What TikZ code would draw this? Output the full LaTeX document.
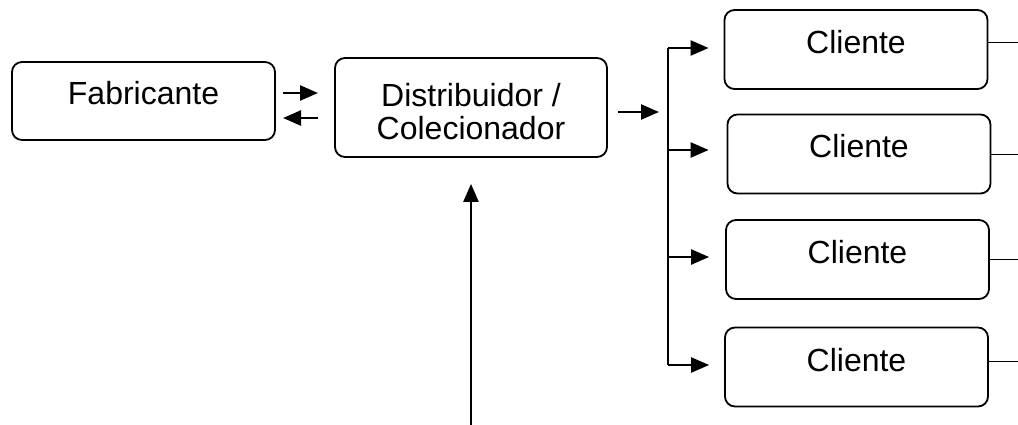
\documentclass[tikz,border=0pt]{standalone}
\usepackage{fontspec}
\setmainfont{Liberation Sans}
\usetikzlibrary{arrows.meta,calc}
\begin{document}
\begin{tikzpicture}[x=1pt,y=-1pt,
  box/.style={draw,line width=1.8pt,rounded corners=10pt,font=\fontsize{32}{33}\selectfont,inner sep=0pt},
  sbox/.style={box,text height=23pt,text depth=15pt},
  cbox/.style={sbox,minimum width=263pt,minimum height=79pt},
  arr/.style={line width=2.4pt,-{Triangle[length=18pt,width=15pt]}},
  bus/.style={line width=2.4pt},
  thinline/.style={line width=1pt}]
\useasboundingbox (0,0) rectangle (1018,425);
\node[sbox,minimum width=263pt,minimum height=78pt] (fab) at (143.5,101) {Fabricante};
\node[box,minimum width=272pt,minimum height=99pt] (dist) at (471,107.5) {\raisebox{-9pt}[\height][\depth]{\begin{tabular}{@{}c@{}}Distribuidor /\\Colecionador\end{tabular}}};
\node[cbox] (c1) at (856,49.5) {Cliente};
\node[cbox] (c2) at (859,154) {Cliente};
\node[cbox] (c3) at (857.5,259.5) {Cliente};
\node[cbox] (c4) at (856.5,367) {Cliente};
% arrows between Fabricante and Distribuidor
\coordinate (fa1) at (283,93);
\coordinate (fa2) at (318,93);
\coordinate (fb1) at (318,118);
\coordinate (fb2) at (283,118);
\draw[arr] (fa1) -- (fa2);
\draw[arr] (fb1) -- (fb2);
% arrow out of Distribuidor
\coordinate (da1) at (618,112);
\coordinate (da2) at (659,112);
\draw[arr] (da1) -- (da2);
% bus
\coordinate (b1) at (668,48);
\coordinate (b2) at (668,150);
\coordinate (b3) at (668,257);
\coordinate (b4) at (668,365);
\draw[bus] (b1) -- (b4);
\draw[arr] (b1) -- ([xshift=-15pt]c1.west |- b1);
\draw[arr] (b2) -- ([xshift=-18pt]c2.west |- b2);
\draw[arr] (b3) -- ([xshift=-16pt]c3.west |- b3);
\draw[arr] (b4) -- ([xshift=-15pt]c4.west |- b4);
% vertical arrow from bottom
\coordinate (bot) at (471,425);
\draw[arr] (bot) -- ([yshift=-26pt]dist.south);
% lines to the right
\draw[thinline] ([yshift=6.5pt]c1.east) -- ++(32,0);
\draw[thinline] ([yshift=-1pt]c2.east) -- ++(32,0);
\draw[thinline] ([yshift=0.5pt]c3.east) -- ++(32,0);
\draw[thinline] ([yshift=6pt]c4.east) -- ++(32,0);
\end{tikzpicture}
\end{document}
